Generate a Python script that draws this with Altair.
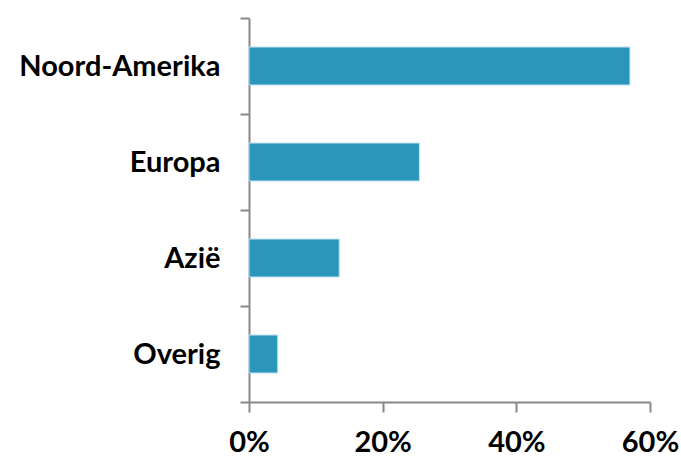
import altair as alt
import pandas as pd

regions = ["Noord-Amerika", "Europa", "Azië", "Overig"]
shares = [0.57, 0.255, 0.135, 0.043]

df = pd.DataFrame({"regio": regions, "aandeel": shares})

font = "Lato"

chart = alt.Chart(df).mark_bar(color="#2A96BA", stroke="#BFE3EE", strokeWidth=1, size=38).encode(
    y=alt.Y("regio:N", sort=regions, title=None,
            scale=alt.Scale(paddingInner=0, paddingOuter=0),
            axis=alt.Axis(tickBand="extent", domainColor="#888888", domainWidth=2,
                          tickColor="#888888", tickWidth=2, tickSize=9,
                          labelFont=font, labelFontWeight="bold", labelFontSize=29,
                          labelColor="#000000", labelPadding=20, labelLimit=400)),
    x=alt.X("aandeel:Q", title=None,
            scale=alt.Scale(domain=[0, 0.6], nice=False),
            axis=alt.Axis(values=[0, 0.2, 0.4, 0.6], format=".0%", grid=False,
                          labelFlush=False,
                          domainColor="#888888", domainWidth=2,
                          tickColor="#888888", tickWidth=2, tickSize=10,
                          labelFont=font, labelFontWeight="bold", labelFontSize=29,
                          labelColor="#000000", labelPadding=16)),
).properties(
    width=401, height=384,
    autosize=alt.AutoSizeParams(type="none"),
    padding={"left": 249, "top": 18, "right": 31, "bottom": 55},
).configure_view(stroke=None)

chart.save("out.html", embed_options={"renderer": "svg", "actions": False})
